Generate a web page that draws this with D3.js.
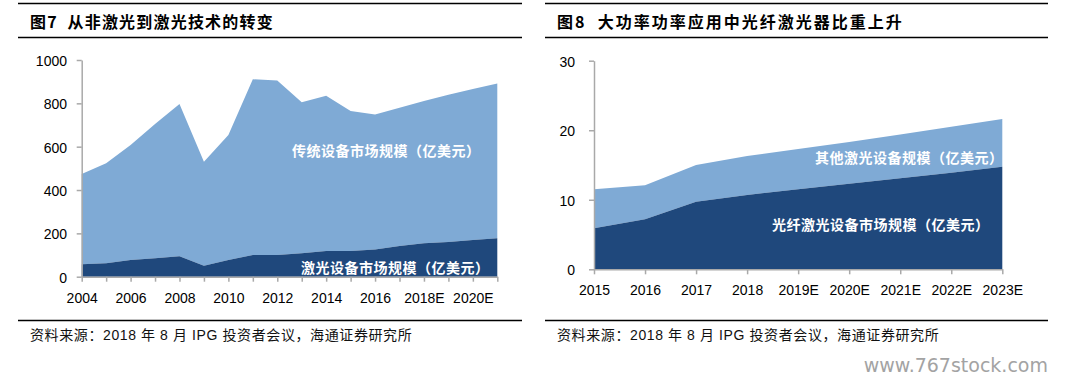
<!DOCTYPE html>
<html>
<head>
<meta charset="utf-8">
<script src="https://cdn.jsdelivr.net/npm/d3@7/dist/d3.min.js"></script>
<style>
  html, body { margin: 0; padding: 0; background: #ffffff; }
  svg { display: block; }
  text { white-space: pre; }
  .tick text { font-family: "Liberation Sans", Arial, sans-serif; }
</style>
</head>
<body>
<svg id="chart" width="1071" height="382"></svg>
<script>
// ---------- Data: Figure 7 ----------
const years7 = ["2004","2005","2006","2007","2008","2009","2010","2011","2012","2013","2014","2015","2016","2017","2018E","2019E","2020E","2021E"];
const labels7 = ["2004","2006","2008","2010","2012","2014","2016","2018E","2020E"];
const laserMarket = [57, 62, 77, 85, 94, 51, 77, 100, 100, 108, 119, 119, 126, 142, 154, 160, 169, 178];
const traditionalMarket = [417, 461, 531, 620, 703, 480, 577, 811, 805, 697, 716, 646, 623, 638, 657, 680, 697, 713];
const yTicks7 = [0, 200, 400, 600, 800, 1000];

// ---------- Data: Figure 8 ----------
const years8 = ["2015","2016","2017","2018","2019E","2020E","2021E","2022E","2023E"];
const fiberLaser = [5.9, 7.2, 9.7, 10.7, 11.5, 12.3, 13.1, 13.9, 14.75];
const otherLaser = [5.6, 4.9, 5.3, 5.6, 5.8, 6.0, 6.3, 6.6, 6.85];
const yTicks8 = [0, 10, 20, 30];

const titles = ["图7  从非激光到激光技术的转变", "图8  大功率功率应用中光纤激光器比重上升"];
const sourceText = "资料来源：2018 年 8 月 IPG 投资者会议，海通证券研究所";
const watermark = "www.767stock.com";

const DARK = "#1f487c";
const LIGHT = "#7faad5";
const AXIS = "#a9a9a9";

const svg = d3.select("#chart");

function panelFrame(x0, x1, title, src, ls) {
  const g = svg.append("g");
  [3.5, 37.5, 320.5].forEach(yy =>
    g.append("line").attr("x1", x0).attr("x2", x1).attr("y1", yy).attr("y2", yy)
      .attr("stroke", "#000").attr("stroke-width", 1.5));
  g.append("text").attr("x", x0 + 12).attr("y", 28)
    .attr("font-family", "'Noto Sans CJK SC', sans-serif").attr("font-weight", 700)
    .attr("font-size", 16).attr("letter-spacing", ls).attr("fill", "#000")
    .text(title);
  g.append("text").attr("x", x0 + 12).attr("y", 339.5)
    .attr("font-family", "'Liberation Sans', 'Noto Sans CJK SC', sans-serif").attr("font-weight", 400)
    .attr("font-size", 14).attr("letter-spacing", 0.6).attr("fill", "#111")
    .text(src);
}

function stackedArea(cfg) {
  const { cats, labels, s1, s2, yMax, yTicks, xRange, yRange, tickLabelX, c1, c2 } = cfg;
  const x = d3.scalePoint().domain(cats).range(xRange);
  const y = d3.scaleLinear().domain([0, yMax]).range(yRange);
  const rows = cats.map((c, i) => ({ cat: c, a: s1[i], b: s2[i] }));
  const stack = d3.stack().keys(["a", "b"])(rows);
  const area = d3.area()
    .x(d => x(d.data.cat))
    .y0(d => y(d[0]))
    .y1(d => y(d[1]));
  const g = svg.append("g");
  g.append("path").datum(stack[1]).attr("d", area).attr("fill", c2);
  g.append("path").datum(stack[0]).attr("d", area).attr("fill", c1);

  // y axis
  const yAxis = d3.axisLeft(y).tickValues(yTicks).tickSize(5).tickSizeOuter(0)
    .tickFormat(d3.format("d"));
  const ya = g.append("g").attr("transform", `translate(${xRange[0]},0)`).call(yAxis);
  ya.select(".domain").attr("stroke", AXIS).attr("stroke-width", 1.5);
  ya.selectAll(".tick line").attr("stroke", AXIS).attr("stroke-width", 1.5);
  ya.selectAll(".tick text").attr("font-size", 14).attr("fill", "#000")
    .attr("x", tickLabelX - xRange[0]).attr("dy", "0.4em");

  // x axis
  const xAxis = d3.axisBottom(x).tickSize(5).tickSizeOuter(0)
    .tickFormat(d => labels.includes(d) ? d : "");
  const xa = g.append("g").attr("transform", `translate(0,${yRange[0]})`).call(xAxis);
  xa.select(".domain").attr("stroke", AXIS).attr("stroke-width", 1.5);
  xa.selectAll(".tick line").attr("stroke", AXIS).attr("stroke-width", 1.5);
  xa.selectAll(".tick text").attr("font-size", 14).attr("fill", "#000").attr("y", 16);
  return { x, y, g };
}

const ann = (g, x, y, t) => g.append("text").attr("x", x).attr("y", y)
  .attr("font-family", "'Noto Sans CJK SC', sans-serif").attr("font-weight", 700)
  .attr("font-size", 14).attr("letter-spacing", 0.5).attr("fill", "#fff")
  .attr("dominant-baseline", "central").text(t);

// ---------- Figure 7 ----------
panelFrame(18, 522, titles[0], sourceText, 1.2);
const c7 = stackedArea({
  cats: years7, labels: labels7, s1: laserMarket, s2: traditionalMarket,
  yMax: 1000, yTicks: yTicks7, xRange: [81.7, 497.3], yRange: [276.7, 60],
  tickLabelX: 67, c1: DARK, c2: LIGHT
});
ann(c7.g, 292, 150, "传统设备市场规模（亿美元）");
ann(c7.g, 301, 266.5, "激光设备市场规模（亿美元）");

// ---------- Figure 8 ----------
panelFrame(545, 1048, titles[1], sourceText, 2.0);
const c8 = stackedArea({
  cats: years8, labels: years8, s1: fiberLaser, s2: otherLaser,
  yMax: 30, yTicks: yTicks8, xRange: [594, 1002.3], yRange: [269.3, 60.7],
  tickLabelX: 575, c1: DARK, c2: LIGHT
});
ann(c8.g, 815, 157, "其他激光设备规模（亿美元）");
ann(c8.g, 772, 224, "光纤激光设备市场规模（亿美元）");

// watermark
svg.append("text").attr("x", 1048).attr("y", 372).attr("text-anchor", "end")
  .attr("font-family", "'DejaVu Sans', sans-serif").attr("font-size", 19)
  .attr("fill", "#a3a3a3").text(watermark);
</script>
</body>
</html>
